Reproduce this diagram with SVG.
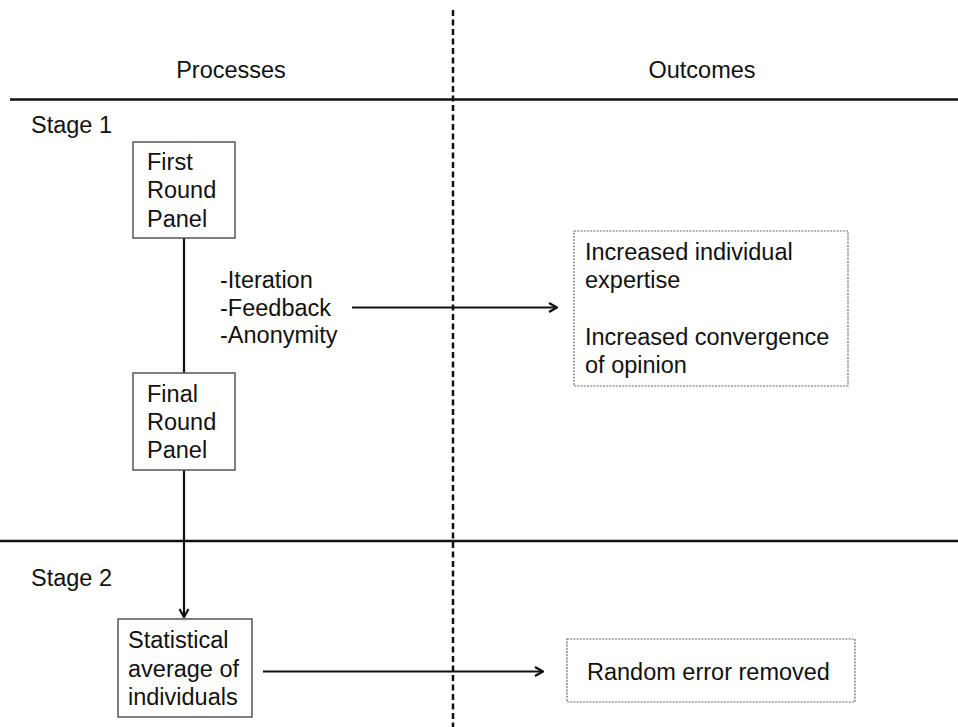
<svg xmlns="http://www.w3.org/2000/svg" width="958" height="727" viewBox="0 0 958 727">
  <style>
    text { font-family: "Liberation Sans", Arial, sans-serif; font-size: 23.5px; fill: #111; }
    .panel { fill: #fff; stroke: #555; stroke-width: 1.5; }
    .outcome { fill: #fff; stroke: #666; stroke-width: 1.2; stroke-dasharray: 2 1.2; }
    .rule { stroke: #111; stroke-width: 2.5; fill: none; }
    .divider { stroke: #111; stroke-width: 2.5; stroke-dasharray: 6 3.5; fill: none; }
    .link { stroke: #111; stroke-width: 2.2; fill: none; }
  </style>
  <defs>
    <marker id="arrow" viewBox="0 0 12 12" refX="11" refY="6" markerWidth="12" markerHeight="12" markerUnits="userSpaceOnUse" orient="auto">
      <polyline points="3,1.5 11,6 3,10.5" fill="none" stroke="#111" stroke-width="2.2"/>
    </marker>
  </defs>
  <rect width="958" height="727" fill="#fff"/>

  <!-- column headers and stage rules -->
  <g id="layout">
    <text x="231" y="78" text-anchor="middle">Processes</text>
    <text x="702" y="78" text-anchor="middle">Outcomes</text>
    <line class="rule" x1="10" y1="99.5" x2="958" y2="99.5"/>
    <line class="rule" x1="0" y1="541" x2="958" y2="541"/>
    <line class="divider" x1="453" y1="10" x2="453" y2="727"/>
    <text x="31" y="133">Stage 1</text>
    <text x="31" y="586">Stage 2</text>
  </g>

  <!-- connectors -->
  <g id="connectors">
    <line class="link" x1="184" y1="238" x2="184" y2="373"/>
    <line class="link" x1="184" y1="470" x2="184" y2="617" marker-end="url(#arrow)"/>
    <line class="link" x1="352" y1="307.5" x2="557" y2="307.5" marker-end="url(#arrow)"/>
    <line class="link" x1="263" y1="671.5" x2="543" y2="671.5" marker-end="url(#arrow)"/>
  </g>

  <g id="first-round">
    <rect class="panel" x="133" y="142" width="102" height="96"/>
    <text x="147" y="170">First</text>
    <text x="147" y="198">Round</text>
    <text x="147" y="227">Panel</text>
  </g>

  <g id="mechanisms">
    <text x="220" y="288">-Iteration</text>
    <text x="220" y="316">-Feedback</text>
    <text x="220" y="343">-Anonymity</text>
  </g>

  <g id="final-round">
    <rect class="panel" x="133" y="373" width="102" height="97"/>
    <text x="147" y="402">Final</text>
    <text x="147" y="430">Round</text>
    <text x="147" y="458">Panel</text>
  </g>

  <g id="stage1-outcomes">
    <rect class="outcome" x="574" y="231" width="274" height="155"/>
    <text x="585" y="260">Increased individual</text>
    <text x="585" y="288">expertise</text>
    <text x="585" y="345">Increased convergence</text>
    <text x="585" y="373">of opinion</text>
  </g>

  <g id="statistical-average">
    <rect class="panel" x="118" y="619" width="134" height="98"/>
    <text x="128" y="648">Statistical</text>
    <text x="128" y="677">average of</text>
    <text x="128" y="705">individuals</text>
  </g>

  <g id="random-error">
    <rect class="outcome" x="567" y="639" width="288" height="63"/>
    <text x="587" y="680">Random error removed</text>
  </g>
</svg>
